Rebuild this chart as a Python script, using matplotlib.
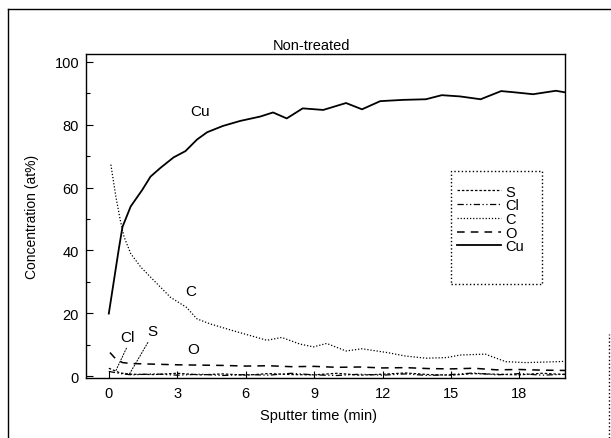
import matplotlib
matplotlib.use("Agg")
import matplotlib.pyplot as plt
from matplotlib.lines import Line2D
from matplotlib.patches import Rectangle

plt.rcParams['font.family'] = ['Liberation Sans', 'DejaVu Sans']

# sputter depth profile
cu_t = [0, 0.45, 0.6, 0.96, 1.47, 1.83, 2.27, 2.84, 3.36, 3.87, 4.31, 5.0, 5.76, 6.64,
        7.2, 7.8, 8.5, 9.4, 10.4, 11.1, 11.9, 12.9, 13.9, 14.6, 15.4, 16.3, 17.2, 17.8,
        18.6, 19.6, 20.0]
cu = [19.9, 41, 47.5, 54, 59.3, 63.5, 66.3, 69.6, 71.6, 75.3, 77.6, 79.6, 81.2, 82.6,
      83.9, 82.0, 85.2, 84.7, 86.9, 84.9, 87.5, 87.9, 88.1, 89.4, 89.0, 88.1, 90.7, 90.3,
      89.7, 90.8, 90.3]

c_t = [0.09, 0.31, 0.5, 0.67, 0.96, 1.4, 1.98, 2.7, 3.4, 3.87, 4.45, 5.47, 6.35, 6.93,
       7.58, 8.38, 8.97, 9.55, 10.4, 11.1, 12.2, 13.0, 13.9, 14.8, 15.4, 16.5, 17.4,
       18.3, 19.7, 20.0]
c = [67.3, 57.1, 49.7, 44.3, 39.0, 34.7, 30.4, 25.1, 21.9, 18.2, 16.6, 14.4, 12.6, 11.4,
     12.3, 10.2, 9.3, 10.4, 8.0, 8.7, 7.5, 6.4, 5.7, 5.9, 6.7, 7.0, 4.6, 4.3, 4.6, 4.7]

o_t = [0.05, 0.3, 0.6, 1, 2, 3, 4, 5, 6, 7, 8, 9, 10, 11, 12, 13, 14, 15, 16, 17, 18, 19, 20]
o = [7.5, 5.5, 4.3, 4.0, 3.8, 3.6, 3.5, 3.4, 3.2, 3.3, 3.0, 3.1, 2.8, 2.9, 2.6, 2.7,
     2.4, 2.3, 2.5, 2.0, 2.1, 1.9, 1.8]

sc_t = [0, 0.5, 1, 2, 3, 4, 5, 6, 7, 8, 9, 10, 11, 12, 13, 14, 15, 16, 17, 18, 19, 20]
s = [2.5, 1.0, 0.6, 0.5, 0.9, 0.4, 0.7, 0.3, 0.8, 0.5, 0.4, 0.9, 0.3, 0.6, 1.0, 0.5,
     0.3, 0.8, 0.6, 0.4, 0.9, 0.5]
cl = [1.5, 0.8, 0.4, 0.7, 0.3, 0.6, 0.2, 0.5, 0.3, 0.9, 0.4, 0.2, 0.6, 0.3, 0.7, 0.2,
      0.5, 1.0, 0.4, 0.8, 0.3, 0.6]

W, H = 611, 439
fig = plt.figure(figsize=(W / 100, H / 100), dpi=100)
ax = fig.add_axes([86 / W, 1 - 379 / H, (565 - 86) / W, (379 - 55) / H])

ax.plot(sc_t, s, color='k', lw=0.9, ls=(0, (2, 1.5)), label='S')
ax.plot(sc_t, cl, color='k', lw=0.9, ls=(0, (5, 2, 1, 2, 1, 2)), label='Cl')
ax.plot(c_t, c, color='k', lw=0.9, ls=(0, (1, 1.5)), label='C')
ax.plot(o_t, o, color='k', lw=1.1, ls=(0, (5, 4)), label='O')
ax.plot(cu_t, cu, color='k', lw=1.3, ls='-', label='Cu')

ax.set_xlim(-1, 20)
ax.set_ylim(-0.6, 102.5)
ax.set_xticks([0, 3, 6, 9, 12, 15, 18])
ax.set_yticks([0, 20, 40, 60, 80, 100])
ax.set_yticks([10, 30, 50, 70, 90], minor=True)
ax.tick_params(direction='in', labelsize=10.5, length=5, width=0.8)
ax.tick_params(axis='x', pad=6)
ax.tick_params(axis='y', pad=5)
ax.tick_params(which='minor', direction='in', length=3, width=0.8)
for sp in ax.spines.values():
    sp.set_linewidth(1.0)

# curve labels
ax.text(4.0, 84.5, 'Cu', fontsize=11, ha='center', va='center')
ax.text(3.6, 27, 'C', fontsize=11, ha='center', va='center')
ax.text(3.7, 8.5, 'O', fontsize=11, ha='center', va='center')
ax.text(0.82, 12.5, 'Cl', fontsize=11, ha='center', va='center')
ax.text(1.9, 14.5, 'S', fontsize=11, ha='center', va='center')
ax.plot([0.78, 0.3], [9.0, 1.6], color='k', lw=0.7, ls=(0, (2, 1)))
ax.plot([1.72, 0.89], [10.8, 0.5], color='k', lw=0.7, ls=(0, (2, 1)))

# legend entries without frame, dotted box drawn separately
leg = ax.legend(loc='upper left', bbox_to_anchor=(0.775, 0.597), fontsize=10.5,
                handlelength=3.0, frameon=False, borderaxespad=0, borderpad=0,
                labelspacing=-0.02, handletextpad=0.3)
ax.add_patch(Rectangle((0.761, 0.290), 0.19, 0.349, transform=ax.transAxes,
                       fill=False, ec='k', lw=1.0, ls=':', zorder=5))

fig.text(312 / W, 1 - 46 / H, 'Non-treated', fontsize=10.5, ha='center', va='center')
fig.text(318 / W, 1 - 416 / H, 'Sputter time (min)', fontsize=10.5, ha='center', va='center')
fig.text(32 / W, 1 - 217 / H, 'Concentration (at%)', fontsize=10, ha='center',
         va='center', rotation=90)

# outer border of the scanned figure
fig.add_artist(Line2D([8 / W, 8 / W], [0, 1 - 10 / H], color='k', lw=1.0,
                      transform=fig.transFigure))
fig.add_artist(Line2D([8 / W, 1], [1 - 10 / H, 1 - 10 / H], color='k', lw=1.0,
                      transform=fig.transFigure))
fig.add_artist(Line2D([609 / W, 609 / W], [0, 1 - 335 / H], color='k', lw=1.0,
                      ls=':', transform=fig.transFigure))

fig.savefig('out.png', dpi=100)
